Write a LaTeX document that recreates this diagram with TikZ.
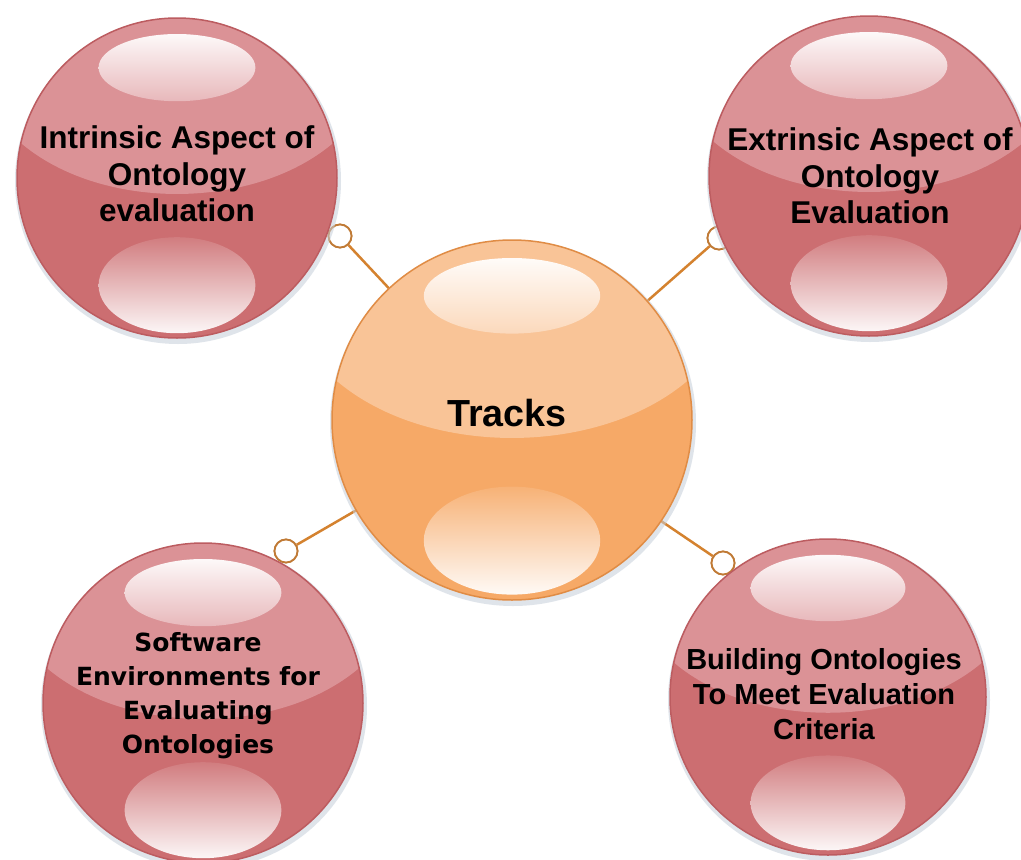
\documentclass[tikz,border=0pt]{standalone}
\usepackage{fontspec}
\setmainfont{Liberation Sans}
\newfontfamily\dvs{DejaVu Sans}
\definecolor{redlo}{HTML}{CC6E71}
\definecolor{redhi}{HTML}{DB9296}
\definecolor{redbd}{HTML}{BC5C60}
\definecolor{orlo}{HTML}{F6A967}
\definecolor{orhi}{HTML}{F9C497}
\definecolor{orbd}{HTML}{E08C45}
\definecolor{linkc}{HTML}{D4822F}
\definecolor{portc}{HTML}{C07A35}
\definecolor{shadowc}{HTML}{C6CFDA}
\newcommand\Sphere[6]{%
  \fill[shadowc,opacity=.55] (#1+1,#2+3) circle[radius=#3+3];
  \begin{scope}
    \clip (#1,#2) circle[radius=#3];
    \fill[#4] (#1,#2) circle[radius=#3];
    \fill[#5] (#1-#3,#2-0.24*#3) .. controls (#1-0.5*#3,#2+0.213*#3) and (#1+0.5*#3,#2+0.213*#3) .. (#1+#3,#2-0.24*#3) -- (#1+#3,#2-#3) -- (#1-#3,#2-#3) -- cycle;
    \shade[top color=white!94!#5, bottom color=white!35!#5] (#1,#2-0.69*#3) ellipse[x radius=0.49*#3, y radius=0.21*#3];
    \shade[top color=white!10!#4, bottom color=white!94!#4] (#1,#2+0.67*#3) ellipse[x radius=0.49*#3, y radius=0.3*#3];
  \end{scope}
  \draw[#6, line width=1.5] (#1,#2) circle[radius=#3];
}
\tikzset{
  hub/.style={circle, inner sep=0pt, minimum size=#1},
  port/.style={circle, draw=portc, fill=white, line width=1.8pt, minimum size=23pt, inner sep=0pt},
  link/.style={draw=linkc, line width=2.5pt},
  txtA/.style={align=center, font=\fontsize{31.5}{36.5}\selectfont\bfseries},
  txtB/.style={align=center, font=\fontsize{25}{34}\selectfont\dvs\bfseries},
  txtC/.style={align=center, font=\fontsize{29}{35}\selectfont\bfseries},
  txtD/.style={align=center, font=\fontsize{37.7}{40}\selectfont\bfseries}
}
\begin{document}
\begin{tikzpicture}[x=1pt,y=-1pt]
\useasboundingbox (0,0) rectangle (1021,860);
\fill[white] (0,0) rectangle (1021,860);
% invisible hubs for connections
\node[hub=360pt] (ctr) at (512,420) {};
\node[hub=320pt] (tl) at (177,178) {};
\node[hub=320pt] (tr) at (869,176) {};
\node[hub=320pt] (bl) at (203,703) {};
\node[hub=316pt] (br) at (828,697) {};
% ports
\node[port] (p1) at (340,236) {};
\node[port] (p2) at (719,238) {};
\node[port] (p3) at (286,551) {};
\node[port] (p4) at (723,563) {};
% connectors
\draw[link] (p1) -- (ctr);
\draw[link] (p2) -- (ctr);
\draw[link] (p3) -- (ctr);
\draw[link] (p4) -- (ctr);
\node[port] at (p1) {};
\node[port] at (p2) {};
\node[port] at (p3) {};
\node[port] at (p4) {};
% spheres
\Sphere{177}{178}{160}{redlo}{redhi}{redbd}
\Sphere{869}{176}{160}{redlo}{redhi}{redbd}
\Sphere{203}{703}{160}{redlo}{redhi}{redbd}
\Sphere{828}{697}{158}{redlo}{redhi}{redbd}
\Sphere{512}{420}{180}{orlo}{orhi}{orbd}
% texts
\node[txtA] (t1) at (177,174) {Intrinsic Aspect of\\Ontology\\evaluation};
\node[txtA] (t2) at (870,176) {Extrinsic Aspect of\\Ontology\\Evaluation};
\node[txtB] (t3) at (198,696) {Software\\Environments for\\Evaluating\\Ontologies};
\node[txtC] (t4) at (824,694) {Building Ontologies\\To Meet Evaluation\\Criteria};
\node[txtD] (t5) at (507,413) {Tracks};
\end{tikzpicture}
\end{document}
